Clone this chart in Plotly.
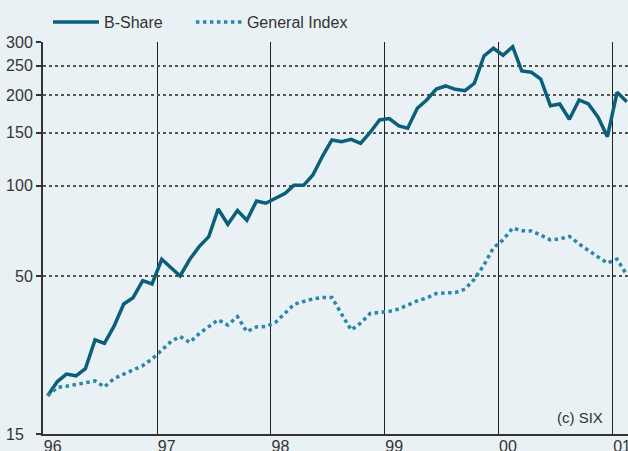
import math
import pandas as pd
import plotly.graph_objects as go

# Monthly observations, Jan 1996 .. Feb 2001
months = pd.date_range("1996-01-01", periods=62, freq="MS") + pd.Timedelta(days=15)

b_share = [20.1, 22.4, 23.7, 23.4, 24.7, 30.8, 30.0, 34.2, 40.5, 42.5, 48.4, 47.2,
           57.0, 53.5, 50.2, 57.0, 62.8, 67.8, 83.7, 74.5, 82.7, 76.8, 89.0, 87.5,
           90.9, 94.4, 100.3, 100.3, 108.6, 125.5, 141.9, 140.1, 142.6, 138.3, 150.5, 165.3,
           167.2, 157.9, 155.2, 180.8, 192.6, 209.5, 214.4, 209.0, 206.8, 218.8, 269.6, 285.9,
           271.1, 289.4, 240.4, 238.0, 226.1, 184.4, 186.8, 166.2, 192.6, 186.8, 168.8, 145.5,
           204.2, 190.1]

general_index = [20.1, 21.4, 21.6, 21.9, 22.2, 22.5, 21.5, 22.9, 23.7, 24.4, 25.3, 26.6,
                 28.5, 30.5, 31.6, 30.2, 32.3, 34.0, 35.9, 34.5, 36.8, 32.8, 34.0, 34.1,
                 35.2, 37.8, 40.4, 41.3, 42.1, 42.6, 42.6, 37.5, 33.2, 35.0, 37.7, 38.0,
                 38.3, 39.0, 40.2, 41.5, 42.4, 43.9, 44.1, 44.2, 45.4, 49.0, 54.6, 62.2,
                 66.1, 72.4, 70.9, 70.8, 68.6, 66.1, 66.6, 67.9, 64.1, 60.8, 58.0, 55.4,
                 57.1, 50.6]

year_ticks = ["1996-01-01", "1997-01-01", "1998-01-01", "1999-01-01", "2000-01-01", "2001-01-01"]
year_labels = ["96", "97", "98", "99", "00", "01"]
y_ticks = [15, 50, 100, 150, 200, 250, 300]
y_labels = ["15\u00a0\u00a0", "50", "100", "150", "200", "250", "300"]

BG = "#e9f1f5"
FONT = "Liberation Sans"
TXT = "#333333"

fig = go.Figure()
fig.add_trace(go.Scatter(x=months, y=b_share, mode="lines", name="B-Share",
                         line=dict(color="#0b5f79", width=3.5), legend="legend"))
fig.add_trace(go.Scatter(x=months, y=general_index, mode="lines", name="General Index",
                         line=dict(color="#2a87a5", width=3.5, dash="dot"), legend="legend2"))

legend_common = dict(orientation="h", xref="container", yref="container",
                     xanchor="left", y=0.951, yanchor="middle",
                     bgcolor="rgba(0,0,0,0)", font=dict(size=16, color=TXT),
                     itemwidth=46)

fig.update_layout(
    width=628, height=451,
    margin=dict(l=43, r=0, t=42, b=17, autoexpand=False),
    paper_bgcolor=BG, plot_bgcolor=BG,
    font=dict(family=FONT, size=16, color=TXT),
    showlegend=True,
    legend=dict(x=0.0764, **legend_common),
    legend2=dict(x=0.304, **legend_common),
    xaxis=dict(type="date", range=["1996-01-01", "2001-02-20"],
               tickvals=year_ticks, ticktext=year_labels, automargin=False,
               showgrid=True, gridcolor="#222222", gridwidth=1,
               showline=True, linecolor="#333333", linewidth=1.5,
               ticks="", ticklabelposition="outside right", ticklabeloverflow="allow",
               ticklabelstandoff=-3,
               tickfont=dict(size=16, color=TXT), zeroline=False),
    yaxis=dict(type="log", range=[math.log10(15), math.log10(300)],
               tickvals=y_ticks, ticktext=y_labels, automargin=False,
               showgrid=True, gridcolor="#555555", gridwidth=1.5, griddash="dot",
               showline=True, linecolor="#333333", linewidth=2,
               ticks="outside", ticklen=5, tickcolor="#333333", tickwidth=1.5,
               tickfont=dict(size=16, color=TXT), zeroline=False),
    annotations=[dict(text="(c) SIX", xref="paper", yref="paper", x=0.961, y=0.041,
                      xanchor="right", yanchor="middle", showarrow=False,
                      font=dict(size=15, color=TXT))],
)

fig.write_html("out.html",
               config={"displayModeBar": False},
               post_script="document.body.style.margin='0';document.body.style.padding='0';"
                           "document.body.style.overflow='hidden';")
